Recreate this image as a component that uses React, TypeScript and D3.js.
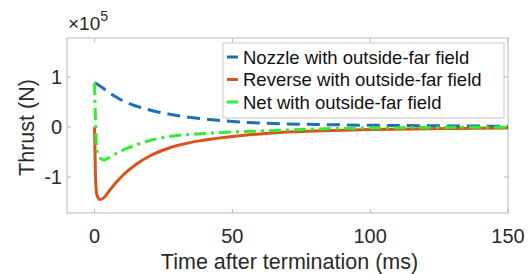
import React, { useEffect, useRef } from 'react';
import * as d3 from 'd3';

// time after termination (ms)
const time = [0, 0.3, 0.8, 2, 3.5, 5, 7.5, 10, 15, 20, 25, 30, 40, 50, 60, 70, 80, 100, 120, 150];
// thrust values in units of 1e5 N
const nozzle = [0.88, 0.875, 0.86, 0.82, 0.76, 0.7, 0.61, 0.53, 0.42, 0.34, 0.28, 0.23, 0.16, 0.11, 0.08, 0.06, 0.05, 0.035, 0.025, 0.015];
const reverse = [0, -0.9, -1.35, -1.45, -1.41, -1.3, -1.13, -0.98, -0.75, -0.58, -0.46, -0.37, -0.26, -0.19, -0.14, -0.1, -0.08, -0.05, -0.035, -0.02];
const net = [0.88, 0.2, -0.45, -0.62, -0.66, -0.62, -0.54, -0.47, -0.36, -0.27, -0.21, -0.17, -0.13, -0.1, -0.08, -0.06, -0.04, -0.02, -0.01, -0.005];

const xTicks = [0, 50, 100, 150];
const yTicks = [-1, 0, 1];

const series = [
  { name: 'Nozzle with outside-far field', values: nozzle, color: '#1f6fb5', dash: '13,7' },
  { name: 'Reverse with outside-far field', values: reverse, color: '#d9541a', dash: null },
  { name: 'Net with outside-far field', values: net, color: '#2fef2f', dash: '12,5,3,5' },
];

const App = () => {
  const svgRef = useRef<SVGSVGElement>(null);

  useEffect(() => {
    const width = 531;
    const height = 274;
    const marginLeft = 67;
    const marginRight = 23;
    const marginTop = 38;
    const marginBottom = 61;
    const font = 'Liberation Sans, Arial, sans-serif';
    const textColor = '#2a2a2a';

    const x = d3.scaleLinear().domain([-10, 150]).range([marginLeft, width - marginRight]);
    const y = d3.scaleLinear().domain([-1.72, 1.78]).range([height - marginBottom, marginTop]);

    const svg = d3.select(svgRef.current)
      .attr('width', width)
      .attr('height', height)
      .attr('viewBox', [0, 0, width, height])
      .style('display', 'block')
      .style('font-family', font);
    svg.selectAll('*').remove();

    svg.append('rect').attr('width', width).attr('height', height).attr('fill', 'white');

    const x0 = marginLeft, x1 = width - marginRight;
    const y0 = height - marginBottom, y1 = marginTop;
    const axisColor = '#b8b8b8';

    // box
    svg.append('rect')
      .attr('x', x0).attr('y', y1)
      .attr('width', x1 - x0).attr('height', y0 - y1)
      .attr('fill', 'none').attr('stroke', axisColor).attr('stroke-width', 1);

    // inward ticks on all four sides
    const tickLen = 4;
    xTicks.forEach(t => {
      svg.append('line').attr('x1', x(t)).attr('x2', x(t)).attr('y1', y0).attr('y2', y0 - tickLen).attr('stroke', axisColor);
      svg.append('line').attr('x1', x(t)).attr('x2', x(t)).attr('y1', y1).attr('y2', y1 + tickLen).attr('stroke', axisColor);
      svg.append('text').attr('x', x(t)).attr('y', 243)
        .attr('text-anchor', 'middle').attr('font-size', 20).attr('fill', textColor).text(t);
    });
    yTicks.forEach(t => {
      svg.append('line').attr('x1', x0).attr('x2', x0 + tickLen).attr('y1', y(t)).attr('y2', y(t)).attr('stroke', axisColor);
      svg.append('line').attr('x1', x1).attr('x2', x1 - tickLen).attr('y1', y(t)).attr('y2', y(t)).attr('stroke', axisColor);
      svg.append('text').attr('x', x0 - 5).attr('y', y(t)).attr('dy', '0.36em')
        .attr('text-anchor', 'end').attr('font-size', 20).attr('fill', textColor).text(t);
    });

    // exponent label
    const exp = svg.append('text').attr('x', x0 + 1).attr('y', 30).attr('font-size', 19).attr('fill', textColor);
    exp.append('tspan').text('\u00d710');
    exp.append('tspan').attr('dy', -9).attr('font-size', 14).text('5');

    // axis titles
    svg.append('text').attr('x', (x0 + x1) / 2 + 2).attr('y', 269)
      .attr('text-anchor', 'middle').attr('font-size', 21.5).attr('fill', textColor)
      .text('Time after termination (ms)');
    svg.append('text').attr('transform', `translate(26,${(y0 + y1) / 2 + 2}) rotate(-90)`)
      .attr('text-anchor', 'middle').attr('dy', '0.35em').attr('font-size', 21.5).attr('fill', textColor)
      .text('Thrust (N)');

    // lines
    const line = d3.line<number>()
      .x((_, i) => x(time[i]))
      .y(d => y(d))
      .curve(d3.curveMonotoneX);

    series.forEach(s => {
      svg.append('path')
        .datum(s.values)
        .attr('fill', 'none')
        .attr('stroke', s.color)
        .attr('stroke-width', 3)
        .attr('stroke-dasharray', s.dash)
        .attr('d', line);
    });

    // legend
    const lx = 223, ly = 43, lw = 281, lh = 75;
    const legend = svg.append('g');
    legend.append('rect').attr('x', lx).attr('y', ly).attr('width', lw).attr('height', lh)
      .attr('fill', 'white').attr('stroke', '#c8c8c8');
    series.forEach((s, i) => {
      const cy = ly + 14 + i * 22.5;
      legend.append('line').attr('x1', lx + 4).attr('x2', lx + 15).attr('y1', cy).attr('y2', cy)
        .attr('stroke', s.color).attr('stroke-width', 3);
      legend.append('text').attr('x', lx + 20).attr('y', cy).attr('dy', '0.36em')
        .attr('font-size', 18.5).attr('fill', '#111').text(s.name);
    });
  }, []);

  return (
    <div style={{ position: 'fixed', left: 0, top: 0 }}>
      <svg ref={svgRef} />
    </div>
  );
};

export default App;
